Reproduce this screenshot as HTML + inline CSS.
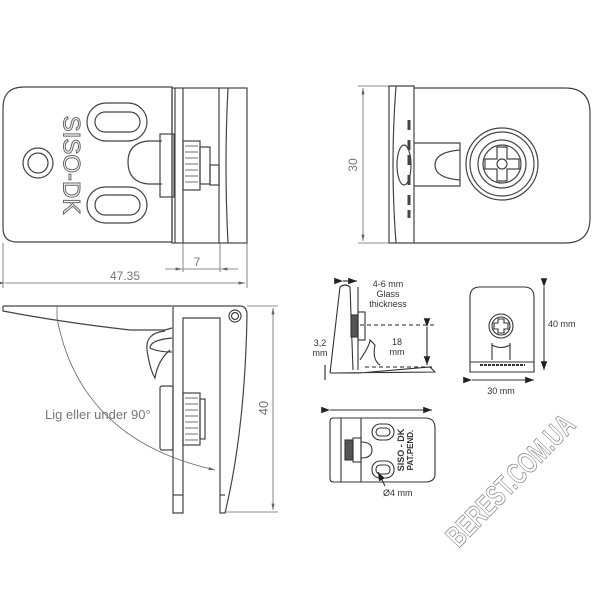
<!DOCTYPE html>
<html><head><meta charset="utf-8"><style>
html,body{margin:0;padding:0;background:#fff;width:600px;height:600px;overflow:hidden}
svg{display:block}
text{font-family:"Liberation Sans",sans-serif}
</style></head><body>
<svg width="600" height="600" viewBox="0 0 600 600" xmlns="http://www.w3.org/2000/svg">
<defs>
<marker id="a" markerWidth="8" markerHeight="6" refX="8" refY="3" orient="auto"><path d="M0,0 L8,3 L0,6 z" fill="#222"/></marker>
<marker id="g" markerWidth="8" markerHeight="6" refX="8" refY="3" orient="auto"><path d="M0,1 L8,3 L0,5 z" fill="#666"/></marker>
</defs>
<!-- TOP LEFT VIEW -->
<g fill="none" stroke="#444" stroke-width="1.2">
<path d="M172,87 H24 Q3,87 3,108 V228 Q3,242 17,242 H172 Z"/>
<rect x="172" y="88" width="75" height="155"/>
<line x1="175" y1="88" x2="175" y2="243"/><line x1="183" y1="88" x2="183" y2="243"/>
<line x1="219" y1="88" x2="219" y2="243"/>
<path d="M228,88 Q224,165 228,243"/>
<rect x="87" y="103" width="60" height="38" rx="19"/><rect x="95" y="112" width="45" height="20" rx="10"/>
<rect x="87" y="187" width="60" height="36" rx="18"/><rect x="95" y="195" width="45" height="20" rx="10"/>
<circle cx="38" cy="163" r="15"/><circle cx="38" cy="163" r="10"/>
<path d="M162,141 H148 Q128,143 128,162 Q128,182 148,184 H162"/>
<rect x="160" y="134" width="14" height="63"/>
<rect x="183" y="141" width="17" height="49"/>
<path d="M185,146 h13 M185,152 h13 M185,158 h13 M185,164 h13 M185,170 h13 M185,176 h13 M185,182 h13" stroke-width="0.8"/>
<rect x="200" y="147" width="10" height="37"/><rect x="210" y="165" width="9" height="20"/>
</g>
<text x="70" y="165" font-size="24" fill="#fff" stroke="#666" stroke-width="1" text-anchor="middle" transform="rotate(90 70 165)" dominant-baseline="middle">SISO-DK</text>
<g stroke="#666" stroke-width="0.8" fill="none">
<line x1="3" y1="243" x2="3" y2="288"/><line x1="247" y1="243" x2="247" y2="288"/>
<line x1="183" y1="243" x2="183" y2="272"/><line x1="220" y1="243" x2="220" y2="272"/>
<line x1="5" y1="283" x2="245" y2="283" marker-end="url(#g)" marker-start="url(#g)"/>
<line x1="165" y1="269" x2="182" y2="269" marker-end="url(#g)"/><line x1="238" y1="269" x2="221" y2="269" marker-end="url(#g)"/>
<line x1="183" y1="269" x2="220" y2="269"/>
</g>
<text x="197" y="266" font-size="12" fill="#777" text-anchor="middle">7</text>
<text x="125" y="280" font-size="12" fill="#777" text-anchor="middle">47.35</text>
<!-- TOP RIGHT VIEW -->
<g fill="none" stroke="#444" stroke-width="1.2">
<path d="M389,86 H414 V243 H389 Z"/>
<path d="M396,86 Q390,165 396,243"/>
<path d="M414,88 H565 Q590,88 590,113 V218 Q590,243 565,243 H414"/>
<path d="M414,143 H460 V186 H414"/><path d="M460,150 Q435,152 435,165 Q435,178 460,180"/>
<ellipse cx="404" cy="165" rx="7" ry="20"/>
<circle cx="502" cy="164" r="36"/><circle cx="502" cy="164" r="32"/><circle cx="502" cy="164" r="24"/><circle cx="502" cy="164" r="19"/>
<path d="M497,147 h10 v12 h12 v10 h-12 v12 h-10 v-12 h-12 v-10 h12 z"/><circle cx="502" cy="164" r="5"/>
<path d="M409,120 v10 M409,140 v10 M409,155 v10 M409,175 v10 M409,195 v10 M409,210 v8" stroke-width="3"/>
</g>
<g stroke="#666" stroke-width="0.8"><line x1="358" y1="86" x2="389" y2="86"/><line x1="358" y1="243" x2="389" y2="243"/>
<line x1="363" y1="165" x2="363" y2="88" marker-end="url(#g)"/><line x1="363" y1="165" x2="363" y2="241" marker-end="url(#g)"/></g>
<text x="357" y="165" font-size="12" fill="#777" text-anchor="middle" transform="rotate(-90 357 165)">30</text>
<!-- BOTTOM LEFT SIDE VIEW -->
<g fill="none" stroke="#444" stroke-width="1.2">
<path d="M3,306 H172 M3,306 V311 Q60,322 130,330 H165 L172,328"/>
<path d="M173,306 H240 Q247,306 247,315 Q245,430 225,513 H220 V318 H183 V513 H173 Z"/>
<circle cx="235" cy="316" r="6"/><circle cx="235" cy="316" r="3.5"/>
<path d="M165,331 Q145,333 147,350 Q150,370 155,378 Q158,360 170,350"/>
<path d="M172,338 Q150,340 150,348 Q158,352 172,352"/>
<rect x="160" y="386" width="13" height="64" rx="2"/>
<rect x="183" y="393" width="17" height="52"/><rect x="200" y="399" width="5" height="40"/>
<path d="M185,398 h13 M185,404 h13 M185,410 h13 M185,416 h13 M185,422 h13 M185,428 h13 M185,434 h13 M185,440 h13" stroke-width="0.8"/>
<line x1="220" y1="495" x2="225" y2="495"/><line x1="173" y1="495" x2="183" y2="495"/>
</g>
<g stroke="#666" stroke-width="0.8" fill="none">
<path d="M57,318 Q80,440 215,470" marker-end="url(#g)"/>
<line x1="57" y1="306" x2="57" y2="318"/>
<line x1="247" y1="306" x2="278" y2="306"/><line x1="225" y1="512" x2="278" y2="512"/>
<line x1="273" y1="400" x2="273" y2="308" marker-end="url(#g)"/><line x1="273" y1="400" x2="273" y2="510" marker-end="url(#g)"/>
</g>
<text x="45" y="419" font-size="13" fill="#777">Lig eller under 90°</text>
<text x="268" y="408" font-size="13" fill="#777" text-anchor="middle" transform="rotate(-90 268 408)">40</text>
<!-- SMALL SIDE VIEW -->
<g fill="none" stroke="#333" stroke-width="1.1">
<path d="M330,373 L340,287 Q345,283 350,287 L353,370"/>
<line x1="358" y1="287" x2="358" y2="370"/>
<rect x="351" y="315" width="7" height="22" fill="#555"/><rect x="358" y="312" width="7" height="28"/>
<path d="M330,373 H360 L430,367 L435,372 Z"/>
<path d="M360,360 Q370,345 370,340 L375,345 Q372,360 380,365"/>
</g>
<g stroke="#222" stroke-width="1.1" fill="none">
<line x1="343" y1="281" x2="357" y2="281" marker-end="url(#a)" marker-start="url(#a)"/>
<line x1="360" y1="325" x2="435" y2="325" stroke-dasharray="4,3"/>
<line x1="365" y1="367" x2="435" y2="367" stroke-dasharray="4,3"/>
<line x1="427" y1="327" x2="427" y2="365" marker-end="url(#a)" marker-start="url(#a)"/>
<line x1="325" y1="365" x2="325" y2="380"/>
</g>
<text font-size="9" fill="#333" text-anchor="middle"><tspan x="388" y="287">4-6 mm</tspan><tspan x="388" y="297">Glass</tspan><tspan x="388" y="307">thickness</tspan></text>
<text font-size="9" fill="#333" text-anchor="middle"><tspan x="397" y="345">18</tspan><tspan x="397" y="355">mm</tspan></text>
<text font-size="9" fill="#333" text-anchor="middle"><tspan x="320" y="346">3,2</tspan><tspan x="320" y="356">mm</tspan></text>
<!-- SMALL FRONT VIEW -->
<g fill="none" stroke="#333" stroke-width="1.1">
<path d="M470,372 V297 Q470,287 480,287 H524 Q534,287 534,297 V372 Z"/>
<line x1="470" y1="362" x2="534" y2="362"/>
<circle cx="501" cy="326" r="12"/><circle cx="501" cy="326" r="9"/>
<path d="M498,319 h6 v4 h4 v6 h-4 v4 h-6 v-4 h-4 v-6 h4 z"/>
<path d="M492,343 L492,360 M510,343 L510,360 M492,345 Q501,350 510,345"/>
<line x1="480" y1="365" x2="525" y2="365" stroke-dasharray="3,1" stroke-width="2"/>
<line x1="472" y1="380" x2="534" y2="380" marker-end="url(#a)" marker-start="url(#a)"/>
<line x1="544" y1="287" x2="544" y2="370" marker-end="url(#a)" marker-start="url(#a)"/>
</g>
<text x="548" y="327" font-size="9" fill="#333">40 mm</text>
<text x="501" y="394" font-size="9" fill="#333" text-anchor="middle">30 mm</text>
<!-- SMALL TOP VIEW -->
<g fill="none" stroke="#333" stroke-width="1.1">
<line x1="330" y1="410" x2="432" y2="410" marker-end="url(#a)" marker-start="url(#a)"/>
<path d="M333,418 H425 Q435,418 435,428 V474 Q435,482 425,482 H333 Q330,482 330,478 V422 Q330,418 333,418 Z"/>
<line x1="341" y1="418" x2="341" y2="482"/><line x1="361" y1="418" x2="361" y2="482"/>
<rect x="372" y="424" width="22" height="16" rx="8"/><rect x="376" y="428" width="14" height="8" rx="4"/>
<rect x="372" y="461" width="22" height="17" rx="8"/><rect x="376" y="465" width="14" height="9" rx="4"/>
<rect x="345" y="440" width="8" height="20" fill="#555"/><rect x="353" y="438" width="8" height="24"/>
<path d="M361,442 Q372,442 372,450 Q372,458 361,458"/>
<line x1="385" y1="486" x2="378" y2="472" marker-end="url(#a)"/>
</g>
<text x="404" y="450" font-size="9" font-weight="bold" fill="#333" text-anchor="middle" transform="rotate(-90 404 450)">SISO - DK</text>
<text x="413" y="450" font-size="8" font-weight="bold" fill="#333" text-anchor="middle" transform="rotate(-90 413 450)">PAT.PEND.</text>
<text x="383" y="496" font-size="9" fill="#333">Ø4 mm</text>
<!-- WATERMARK -->
<text x="512" y="482" font-size="30" font-weight="bold" fill="none" stroke="#888" stroke-width="0.8" text-anchor="middle" textLength="170" lengthAdjust="spacingAndGlyphs" transform="rotate(-46 512 482)" dominant-baseline="middle">BEREST.COM.UA</text>
</svg>
</body></html>
